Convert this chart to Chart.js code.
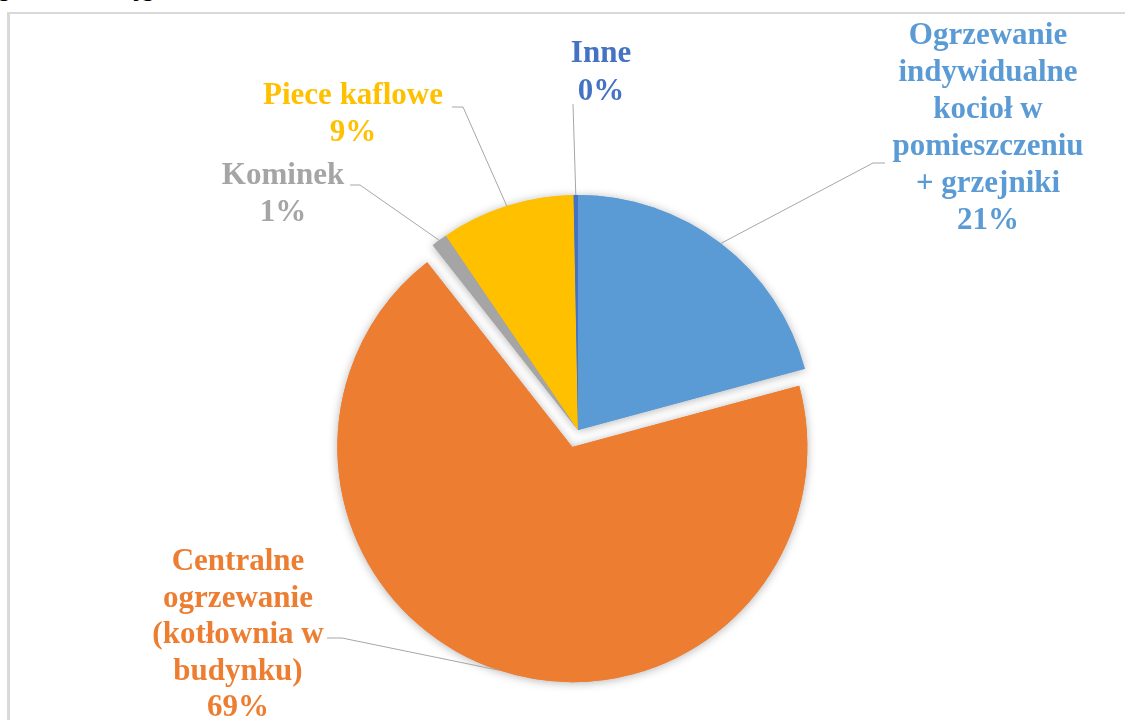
<!DOCTYPE html>
<html lang="pl">
<head>
<meta charset="utf-8">
<script src="https://cdn.jsdelivr.net/npm/chart.js@4.4.1/dist/chart.umd.min.js"></script>
<style>
  html, body { margin: 0; padding: 0; background: #fff; }
  #wrap { position: relative; width: 1125px; height: 720px; overflow: hidden; }
  #frame {
    position: absolute; left: 7px; top: 12px; width: 1300px; height: 900px;
    border-top: 2px solid #d9d9d9; border-left: 3px solid #d9d9d9;
  }
  .cut {
    position: absolute; top: -25px; line-height: 24px; font: bold 24px "Liberation Serif", serif; color: #000;
  }
  canvas { position: absolute; left: 0; top: 0; }
</style>
</head>
<body>
<div id="wrap">
  <span class="cut" style="left:-2px">g</span>
  <span class="cut" style="left:134px">jg</span>
  <div id="frame"></div>
  <canvas id="chart" width="1125" height="720"></canvas>
</div>
<script>
const categories = [
  "Ogrzewanie indywidualne kocioł w pomieszczeniu + grzejniki",
  "Centralne ogrzewanie (kotłownia w budynku)",
  "Kominek",
  "Piece kaflowe",
  "Inne",
];
const labelLines = [
  ["Ogrzewanie", "indywidualne", "kocioł w", "pomieszczeniu", "+ grzejniki"],
  ["Centralne", "ogrzewanie", "(kotłownia w", "budynku)"],
  ["Kominek"],
  ["Piece kaflowe"],
  ["Inne"],
];
const shares = [20.8, 68.6, 1.1, 9.2, 0.3];
const colors = ["#5B9BD5", "#ED7D31", "#A5A5A5", "#FFC000", "#4472C4"];
const explode = [0, 18, 0, 0, 0];

// where each label block sits and how its leader line bends
const labelLayout = [
  { x: 988, y: 36, gap: 37, elbow: [873, 163], end: [885, 163] },
  { x: 238, y: 562, gap: 36.5, elbow: [342, 638], end: [327, 638] },
  { x: 283, y: 176, gap: 37, elbow: [360, 185], end: [350, 185] },
  { x: 353, y: 96, gap: 37, elbow: [463, 107], end: [452, 107] },
  { x: 601, y: 54, gap: 38, elbow: [573, 104], end: null },
];

function arcShift(arc, i) {
  const mid = (arc.startAngle + arc.endAngle) / 2;
  return { dx: Math.cos(mid) * explode[i], dy: Math.sin(mid) * explode[i], mid };
}

const explodedPie = {
  id: "explodedPie",
  beforeDatasetDraw(chart, args) {
    const ctx = chart.ctx;
    const arcs = args.meta.data;
    // soft shadow pass, covered afterwards by the plain fills
    ctx.save();
    ctx.shadowColor = "rgba(0,0,0,0.3)";
    ctx.shadowBlur = 10;
    ctx.shadowOffsetY = 1;
    arcs.forEach((arc, i) => {
      const { dx, dy } = arcShift(arc, i);
      ctx.save();
      ctx.translate(dx, dy);
      arc.draw(ctx);
      ctx.restore();
    });
    ctx.restore();
    arcs.forEach((arc, i) => {
      const { dx, dy } = arcShift(arc, i);
      ctx.save();
      ctx.translate(dx, dy);
      arc.draw(ctx);
      ctx.restore();
    });
    return false;
  },
  afterDraw(chart) {
    const ctx = chart.ctx;
    const arcs = chart.getDatasetMeta(0).data;
    ctx.save();
    arcs.forEach((arc, i) => {
      const lay = labelLayout[i];
      const { dx, dy, mid } = arcShift(arc, i);
      const sx = arc.x + dx + Math.cos(mid) * arc.outerRadius;
      const sy = arc.y + dy + Math.sin(mid) * arc.outerRadius;

      ctx.strokeStyle = "#a6a6a6";
      ctx.lineWidth = 1;
      ctx.beginPath();
      ctx.moveTo(sx, sy);
      ctx.lineTo(lay.elbow[0], lay.elbow[1]);
      if (lay.end) ctx.lineTo(lay.end[0], lay.end[1]);
      ctx.stroke();

      const lines = [...labelLines[i], Math.round(shares[i]) + "%"];
      ctx.fillStyle = colors[i];
      ctx.font = 'bold 31px "Liberation Serif", "Times New Roman", serif';
      ctx.textAlign = "center";
      ctx.textBaseline = "middle";
      lines.forEach((t, k) => ctx.fillText(t, lay.x, lay.y + k * lay.gap));
    });
    ctx.restore();
  },
};

new Chart(document.getElementById("chart"), {
  type: "pie",
  data: {
    labels: categories,
    datasets: [{
      data: shares,
      backgroundColor: colors,
      borderWidth: 0,
    }],
  },
  options: {
    responsive: false,
    animation: false,
    devicePixelRatio: 1,
    events: [],
    radius: 235,
    layout: { padding: { left: 31, right: 0, top: 140, bottom: 0 } },
    plugins: {
      legend: { display: false },
      tooltip: { enabled: false },
    },
  },
  plugins: [explodedPie],
});
</script>
</body>
</html>
